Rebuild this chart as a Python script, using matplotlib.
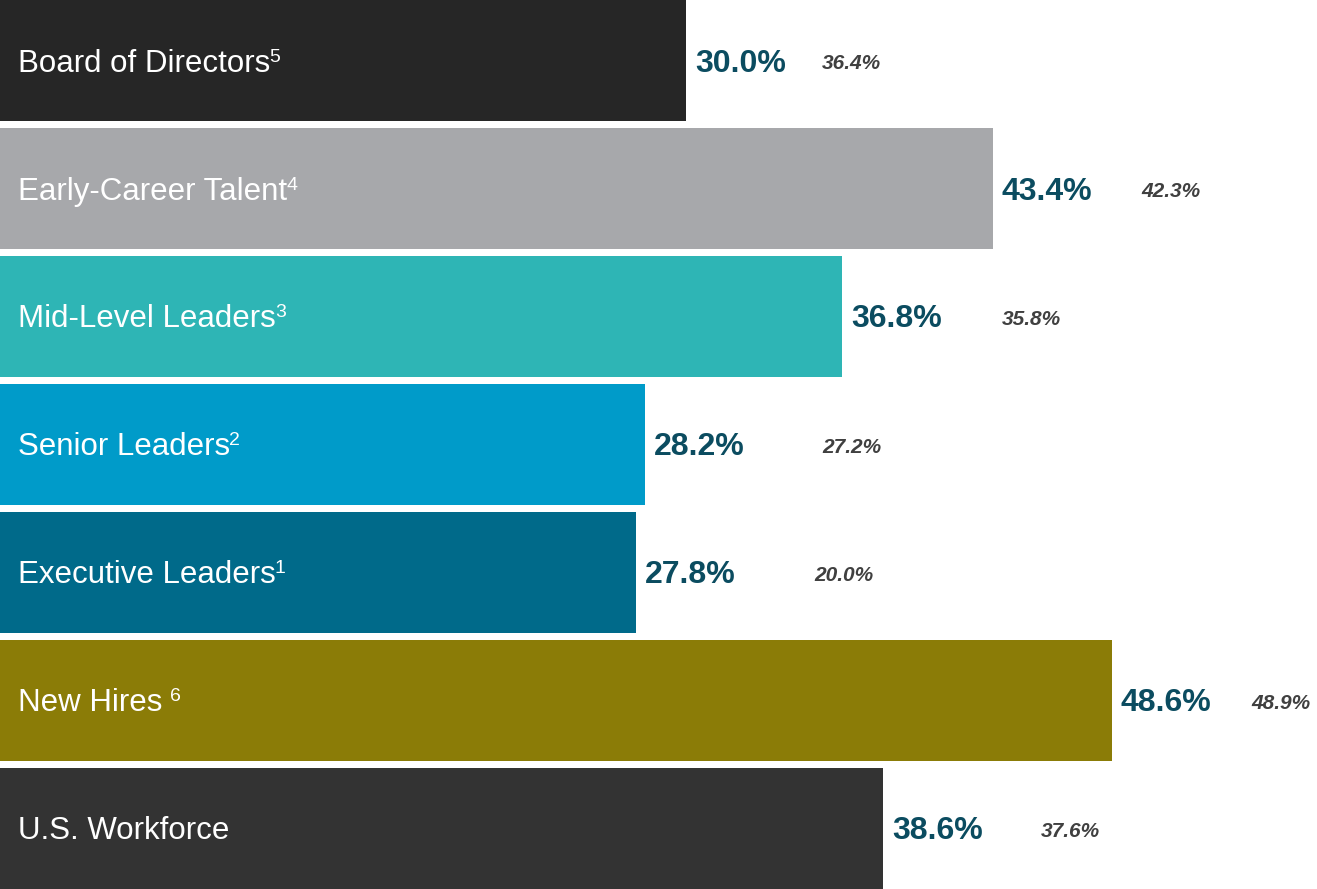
import numpy as np
import matplotlib.pyplot as plt

plt.rcParams['font.family'] = ['Liberation Sans', 'DejaVu Sans']

# Datos
categorias = ['Board of Directors', 'Early-Career Talent', 'Mid-Level Leaders',
              'Senior Leaders', 'Executive Leaders', 'New Hires ', 'U.S. Workforce']
notas = ['5', '4', '3', '2', '1', '6', '']
valores = [30.0, 43.4, 36.8, 28.2, 27.8, 48.6, 38.6]
valores_previos = [36.4, 42.3, 35.8, 27.2, 20.0, 48.9, 37.6]

colores = ['#262626', '#a7a8ab', '#2eb5b5', '#009bc9', '#006a8a', '#8b7c07', '#333333']
# desplazamiento (px) de la etiqueta secundaria respecto al final de la barra
offsets_prev = [135, 148, 160, 177, 178, 139, 158]

fig = plt.figure(figsize=(13.17, 8.89), dpi=100)
ax = fig.add_axes([0, 0, 1, 1])

y = np.arange(len(categorias))
alto = 0.947
ax.barh(y, valores, height=alto, color=colores, left=0)

ax.set_xlim(0, 1317 / 22.88)
ax.set_ylim(len(categorias) - 1 + alto / 2 + 0.002, -alto / 2)
ax.axis('off')

for i, (cat, nota, v, vp) in enumerate(zip(categorias, notas, valores, valores_previos)):
    t = ax.annotate(cat, xy=(0, i), xytext=(18, -3), textcoords='offset pixels',
                    color='white', fontsize=22.5, va='center', ha='left')
    if nota:
        ax.annotate(nota, xy=(1, 1), xycoords=t, xytext=(-1, 0), textcoords='offset pixels',
                    color='white', fontsize=14, va='top', ha='left')
    ax.annotate(f'{v:.1f}%', xy=(v, i), xytext=(9, -3), textcoords='offset pixels',
                color='#0b4c60', fontsize=23, fontweight='bold', va='center', ha='left')
    ax.annotate(f'{vp:.1f}%', xy=(v, i), xytext=(offsets_prev[i], -3), textcoords='offset pixels',
                color='#404040', fontsize=15, fontweight='bold', fontstyle='italic',
                va='center', ha='left')

plt.savefig('out.png', dpi=100)
